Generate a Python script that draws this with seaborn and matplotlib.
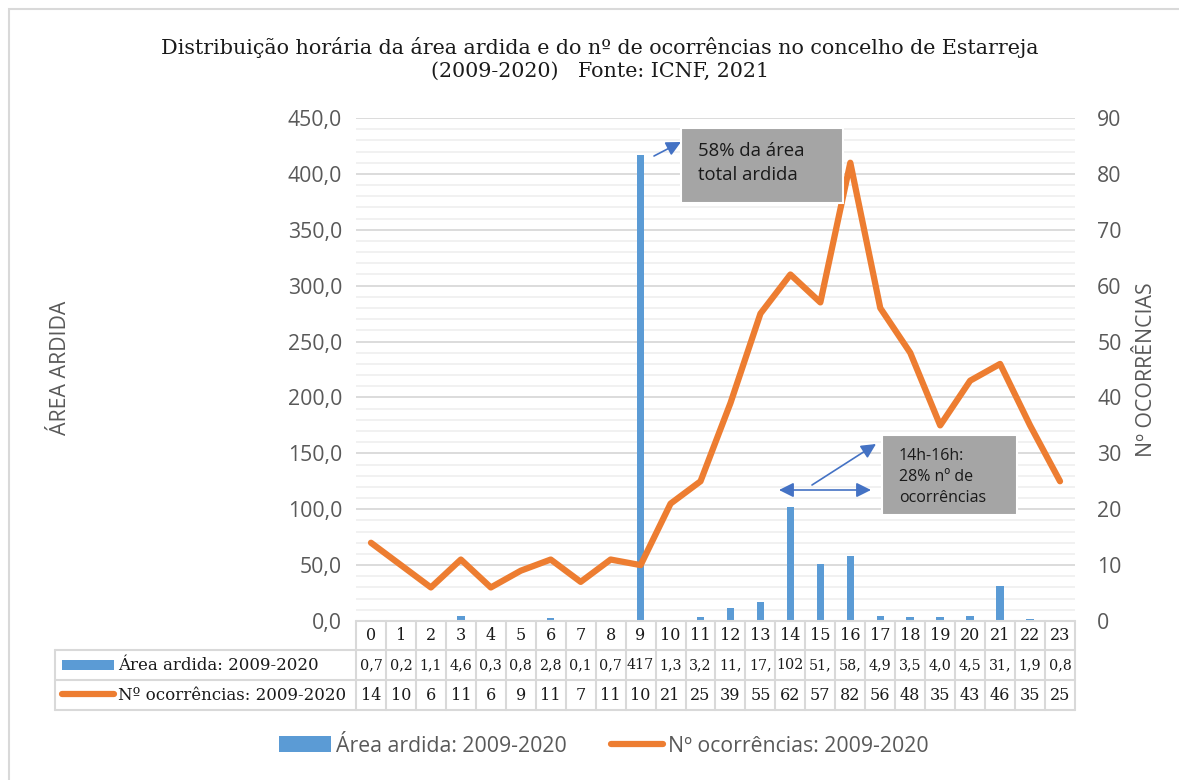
import numpy as np
import pandas as pd
import matplotlib
matplotlib.use("Agg")
import matplotlib.pyplot as plt
import matplotlib.transforms as mtransforms
from matplotlib.patches import Rectangle, Patch
from matplotlib.lines import Line2D
from matplotlib.ticker import MultipleLocator, FuncFormatter
import seaborn as sns

# ---------------- data ----------------
hours = [0, 1, 2, 3, 4, 5, 6, 7, 8, 9, 10, 11, 12, 13, 14, 15, 16, 17, 18, 19, 20, 21, 22, 23]
area_ardida = [0.7, 0.2, 1.1, 4.6, 0.3, 0.8, 2.8, 0.1, 0.7, 417.0, 1.3, 3.2,
               11.6, 17.4, 102.0, 51.2, 58.3, 4.9, 3.5, 4.0, 4.5, 31.0, 1.9, 0.8]
ocorrencias = [14, 10, 6, 11, 6, 9, 11, 7, 11, 10, 21, 25, 39, 55, 62, 57, 82, 56, 48, 35, 43, 46, 35, 25]
serie_area = "Área ardida: 2009-2020"
serie_ocorr = "Nº ocorrências: 2009-2020"
title_text = "Distribuição horária da área ardida e do nº de ocorrências no concelho de Estarreja\n(2009-2020)   Fonte: ICNF, 2021"
note1 = "58% da área\ntotal ardida"
note2 = "14h-16h:\n28% nº de\nocorrências"

df = pd.DataFrame({"hora": hours, "area": area_ardida, "ocorr": ocorrencias})

# ---------------- style ----------------
sns.set_theme(style="white")
plt.rcParams["font.family"] = ["Open Sans", "DejaVu Sans"]
BLUE = "#5B9BD5"
ORANGE = "#ED7D31"
GRAY_TXT = "#595959"
GRID_MAJ = "#D9D9D9"
GRID_MIN = "#F0F0F0"
ARROW = "#4472C4"
SERIF = ["DejaVu Serif"]
SANS_SIZE = 15.3

W, H = 1179, 780
fig = plt.figure(figsize=(W / 100, H / 100), dpi=100)
fx = lambda px: px / W
fy = lambda py: 1 - py / H

# outer chart border
fig.add_artist(Rectangle((fx(9), fy(800)), fx(1200), fy(9) - fy(800),
                         transform=fig.transFigure, fill=False, ec=GRID_MAJ, lw=1.5))

ax = fig.add_axes([fx(356), fy(621), fx(1075 - 356), (621 - 118) / H])
ax2 = ax.twinx()

sns.barplot(data=df, x="hora", y="area", ax=ax, color=BLUE, width=0.25,
            saturation=1, errorbar=None, linewidth=0, zorder=3)
sns.lineplot(data=df, x="hora", y="ocorr", ax=ax2, color=ORANGE, lw=4.5,
             solid_capstyle="round", solid_joinstyle="round", zorder=4)

ax.set_xlim(-0.5, len(hours) - 0.5)
ax.set_ylim(0, 450)
ax2.set_ylim(0, 90)
ax.yaxis.set_major_locator(MultipleLocator(50))
ax.yaxis.set_minor_locator(MultipleLocator(10))
ax2.yaxis.set_major_locator(MultipleLocator(10))
ax.yaxis.set_major_formatter(FuncFormatter(lambda v, p: f"{v:.1f}".replace(".", ",")))
ax.grid(axis="y", which="major", color=GRID_MAJ, lw=1.3, zorder=0)
ax.grid(axis="y", which="minor", color=GRID_MIN, lw=1.3, zorder=0)
ax.set_axisbelow(True)
ax2.grid(False)
ax.set_xticks([])
ax.set_xlabel("")
ax.set_ylabel("")
ax2.set_ylabel("")
for a in (ax, ax2):
    for s in a.spines.values():
        s.set_visible(False)
    a.patch.set_alpha(0)
ax.tick_params(axis="y", which="both", length=0, labelsize=SANS_SIZE, labelcolor=GRAY_TXT, pad=10)
ax2.tick_params(axis="y", which="both", length=0, labelsize=SANS_SIZE, labelcolor=GRAY_TXT, pad=16)
ax2.set_xticks([])
ax2.set_xlabel("")

# axis titles
fig.text(fx(61), fy(368), "ÁREA ARDIDA", rotation=90, ha="center", va="center",
         fontsize=SANS_SIZE, color=GRAY_TXT)
fig.text(fx(1146), fy(370), "Nº OCORRÊNCIAS", rotation=90, ha="center", va="center",
         fontsize=SANS_SIZE, color=GRAY_TXT)

# title
fig.text(fx(600), fy(59), title_text, ha="center", va="center", fontsize=14.9,
         family=SERIF, color="#1a1a1a", linespacing=1.3)

# ---------------- data table ----------------
blend = mtransforms.blended_transform_factory(ax.transData, fig.transFigure)
TBL = "#D9D9D9"
row_y = [622, 650, 680, 710]
fig.add_artist(Line2D([fx(356), fx(1075)], [fy(621), fy(621)], transform=fig.transFigure, color=TBL, lw=1.5))
for yy in row_y[1:]:
    fig.add_artist(Line2D([fx(55), fx(1075)], [fy(yy), fy(yy)], transform=fig.transFigure, color=TBL, lw=1.5))
fig.add_artist(Line2D([fx(55), fx(55)], [fy(650), fy(710)], transform=fig.transFigure, color=TBL, lw=1.5))
for k in range(len(hours) + 1):
    fig.add_artist(Line2D([k - 0.5, k - 0.5], [fy(621), fy(710)], transform=blend, color=TBL, lw=1.5))

def fmt_cell(v):
    return f"{v:.1f}".replace(".", ",")[:3]

for h, a_val, o_val in zip(hours, area_ardida, ocorrencias):
    fig.text(h, fy(636), str(h), transform=blend, ha="center", va="center", fontsize=11.5, family=SERIF, color="#1a1a1a")
    fig.text(h, fy(665), fmt_cell(a_val), transform=blend, ha="center", va="center", fontsize=10.3, family=SERIF, color="#1a1a1a")
    fig.text(h, fy(695), str(o_val), transform=blend, ha="center", va="center", fontsize=11.5, family=SERIF, color="#1a1a1a")

# legend keys inside table
fig.add_artist(Rectangle((fx(62), fy(670)), fx(52), 10 / H, transform=fig.transFigure, color=BLUE, lw=0))
fig.add_artist(Line2D([fx(62), fx(114)], [fy(694), fy(694)], transform=fig.transFigure, color=ORANGE, lw=4.5, solid_capstyle="round"))
fig.text(fx(118), fy(665), serie_area, ha="left", va="center", fontsize=12.0, family=SERIF, color="#1a1a1a")
fig.text(fx(118), fy(695), serie_ocorr, ha="left", va="center", fontsize=12.0, family=SERIF, color="#1a1a1a")

# ---------------- annotations ----------------
fig.add_artist(Rectangle((fx(681), fy(203)), fx(162), 75 / H, transform=fig.transFigure,
                         fc="#A5A5A5", ec="white", lw=1.5, zorder=5))
fig.text(fx(698), fy(163), note1, ha="left", va="center", fontsize=13.3, color="#1a1a1a",
         linespacing=1.4, zorder=6)
fig.add_artist(Rectangle((fx(882), fy(515)), fx(135), 80 / H, transform=fig.transFigure,
                         fc="#A5A5A5", ec="white", lw=1.5, zorder=5))
fig.text(fx(899), fy(477), note2, ha="left", va="center", fontsize=11.5, color="#1a1a1a",
         linespacing=1.45, zorder=6)

arrow_kw = dict(arrowstyle="-|>", color=ARROW, lw=1.2, mutation_scale=22, shrinkA=0, shrinkB=0)
ax.annotate("", xy=(fx(681), fy(142)), xytext=(fx(654), fy(156)), xycoords="figure fraction",
            textcoords="figure fraction", arrowprops=arrow_kw, zorder=7)
ax.annotate("", xy=(fx(876), fy(444)), xytext=(fx(812), fy(485)), xycoords="figure fraction",
            textcoords="figure fraction", arrowprops=arrow_kw, zorder=7)
ax.annotate("", xy=(fx(871), fy(490)), xytext=(fx(779), fy(490)), xycoords="figure fraction",
            textcoords="figure fraction",
            arrowprops=dict(arrowstyle="<|-|>", color=ARROW, lw=1.2, mutation_scale=22, shrinkA=0, shrinkB=0),
            zorder=7)

# ---------------- bottom legend ----------------
handles = [Patch(facecolor=BLUE, edgecolor="none", label=serie_area),
           Line2D([0], [0], color=ORANGE, lw=4.5, solid_capstyle="round", label=serie_ocorr)]
fig.legend(handles=handles, loc="center", bbox_to_anchor=(fx(604), fy(746)), ncol=2, frameon=False,
           fontsize=SANS_SIZE, labelcolor=GRAY_TXT, handlelength=2.45, handleheight=0.75,
           handletextpad=0.22, columnspacing=2.1)

fig.savefig("out.png", dpi=100)
